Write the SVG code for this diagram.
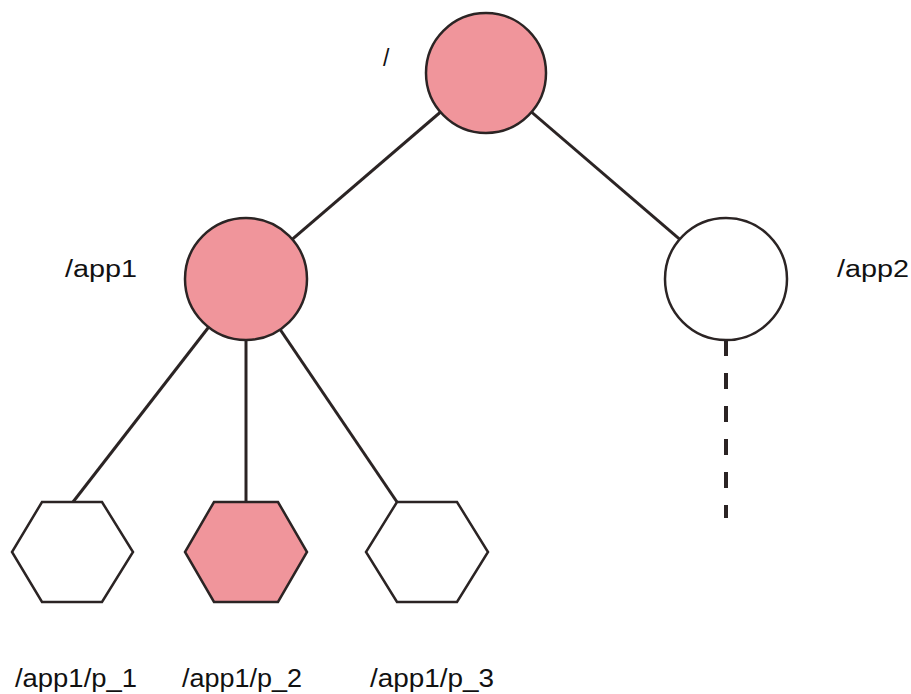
<svg xmlns="http://www.w3.org/2000/svg" width="911" height="694" viewBox="0 0 911 694">
<style>
.edge{stroke:#2b2424;stroke-width:3;fill:none}
.dash{stroke:#2b2424;stroke-width:4;stroke-dasharray:16 17;fill:none}
.node{stroke:#2b2424;stroke-width:2.5}
.on{fill:#f0959b}
.off{fill:#ffffff}
.lbl{font-family:"Liberation Sans",Arial,sans-serif;fill:#111111}
.mid{font-size:23px}
.bot{font-size:25px}
</style>
<rect width="911" height="694" fill="#ffffff"/>
<g id="connectors">
<line class="edge" x1="486" y1="73" x2="246" y2="279"/>
<line class="edge" x1="486" y1="73" x2="726" y2="279"/>
<line class="edge" x1="246" y1="279" x2="73" y2="502"/>
<line class="edge" x1="246" y1="279" x2="246" y2="502"/>
<line class="edge" x1="246" y1="279" x2="397" y2="502"/>
<line class="dash" x1="726" y1="340" x2="726" y2="518"/>
</g>
<g id="node-root">
<circle class="node on" cx="486" cy="73" r="60"/>
<text class="lbl mid" x="383" y="66">/</text>
</g>
<g id="node-app1">
<circle class="node on" cx="246" cy="279" r="61"/>
<text class="lbl mid" x="65" y="277" textLength="72" lengthAdjust="spacingAndGlyphs">/app1</text>
</g>
<g id="node-app2">
<circle class="node off" cx="726" cy="279" r="61"/>
<text class="lbl mid" x="837" y="277" textLength="72" lengthAdjust="spacingAndGlyphs">/app2</text>
</g>
<g id="node-p1">
<polygon class="node off" points="42,502 102,502 133,552 102,602 42,602 12,552"/>
<text class="lbl bot" x="15" y="687" textLength="122" lengthAdjust="spacingAndGlyphs">/app1/p_1</text>
</g>
<g id="node-p2">
<polygon class="node on" points="214,502 278,502 307,552 278,602 214,602 185,552"/>
<text class="lbl bot" x="182" y="687" textLength="120" lengthAdjust="spacingAndGlyphs">/app1/p_2</text>
</g>
<g id="node-p3">
<polygon class="node off" points="397,502 457,502 488,552 457,602 397,602 366,552"/>
<text class="lbl bot" x="370" y="687" textLength="124" lengthAdjust="spacingAndGlyphs">/app1/p_3</text>
</g>
</svg>
